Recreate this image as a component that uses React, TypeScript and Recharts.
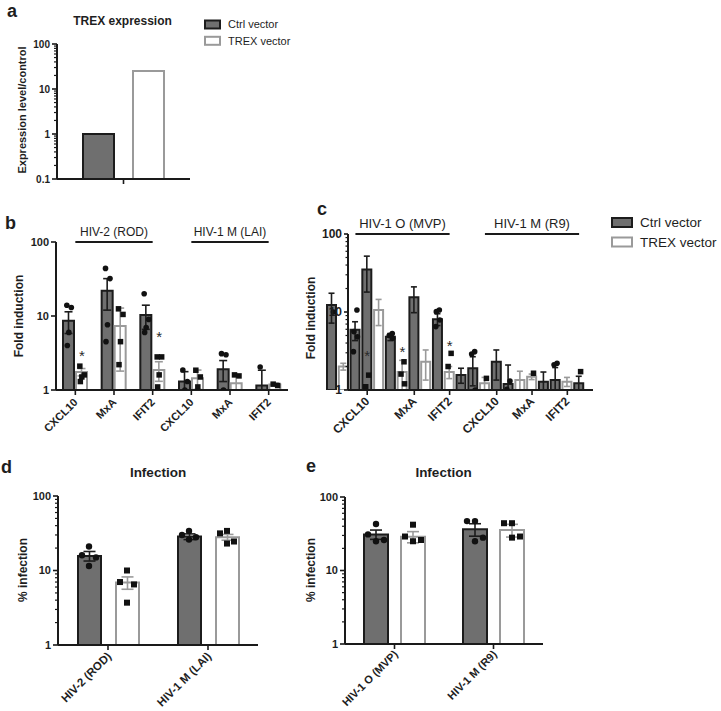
import React from 'react';
import { ComposedChart, Bar, Scatter, XAxis, YAxis, ErrorBar, ReferenceLine, Label } from 'recharts';

const FONT = '"Liberation Sans", Arial, Helvetica, sans-serif';
const DARK_FILL = '#6f6f6f';
const DARK_STROKE = '#1c1c1c';
const LIGHT_STROKE = '#9a9a9a';
const AXIS = '#1a1a1a';
const TEXT = '#1e1e1e';

// ---------- data ----------
const legendLabels = ['Ctrl vector', 'TREX vector'];

// a: TREX expression
const aCategories = [''];
const aCtrl = [1];
const aTrex = [25];

// b: HIV-2 (ROD) / HIV-1 M (LAI)
const bGenes = ['CXCL10', 'MxA', 'IFIT2', 'CXCL10', 'MxA', 'IFIT2'];
const bGroups = ['HIV-2 (ROD)', 'HIV-1 M (LAI)'];
const bCtrl = [8.6, 22, 10.3, 1.3, 1.9, 1.15];
const bCtrlErr = [2.8, 10, 3.7, 0.47, 0.6, 0.7];
const bTrex = [1.75, 7.3, 1.86, 1.44, 1.23, 1.19];
const bTrexErr = [0.2, 5.5, 0.55, 0.42, 0.37, 0.05];
const bCtrlPts = [[14, 13, 6, 4], [44, 32, 7.6, 4.5], [20, 9, 7, 6], [1.86, 1.3, 1.0], [3.1, 3.0, 1.0], [2.05]];
const bTrexPts = [[2.1, 1.6, 1.5, 1.3], [12.5, 10.5, 4.5, 2.2], [2.8, 2.8, 1.6, 1.1], [1.85, 1.5, 1.1], [1.6, 1.55], [1.2, 1.15]];
const bStars = [3.2, null, 5.7, null, null, null];

// c: HIV-1 O (MVP) / HIV-1 M (R9)
const cGroups = ['HIV-1 O (MVP)', 'HIV-1 M (R9)'];
const cRowGene = [null, null, null, 'CXCL10', null, null, null, 'MxA', null, null, 'IFIT2', null, null, null, 'CXCL10', null, null, 'MxA', null, null, 'IFIT2', null];
const cCtrl = [12.3, null, 5.9, 35, null, 4.8, null, 15.4, null, 8.1, null, 1.56, 1.9, null, 2.3, 1.19, null, null, 1.28, 1.34, null, 1.22];
const cCtrlErr = [5.1, null, 1.6, 17, null, 0.5, null, 5.6, null, 1.4, null, 0.34, 0.77, null, 0.96, 0.9, null, null, 0.42, 0.6, null, 0.28];
const cTrex = [null, 2.0, null, null, 10.6, null, 1.7, null, 2.3, null, 1.7, null, null, 1.22, null, null, 1.34, 1.48, null, null, 1.28, null];
const cTrexErr = [null, 0.2, null, null, 3.9, null, 0.7, null, 0.96, null, 0.3, null, null, 0.23, null, null, 0.4, 0.12, null, null, 0.17, null];
const cCircles = [[10], [], [10.6, 5.6, 4.8, 3.1], [], [], [5.3, 5.0, 4.6], [], [], [], [10.6, 10.1, 7.9, 6.5], [], [], [3.1, 2.9, 1.0], [], [], [1.3, 1.02], [], [], [], [2.2, 2.1], [], []];
const cSquares = [[], [], [], [1.55, 1.1], [], [], [2.3, 1.6, 1.2], [], [], [], [2.95, 2.0], [], [], [1.41], [], [], [], [1.64], [], [], [], [1.72]];
const cStars = [null, null, null, 2.95, null, null, 3.4, null, null, null, 4.0, null, null, null, null, null, null, null, null, null, null, null];

// d: infection HIV-2 / HIV-1 M (LAI)
const dCats = ['HIV-2 (ROD)', 'HIV-1 M (LAI)'];
const dCtrl = [15.7, 28.5];
const dCtrlErr = [2.3, 2.5];
const dTrex = [6.9, 28];
const dTrexErr = [1.3, 2.5];
const dCtrlPts = [[21, 16, 15, 11.5], [34, 30, 28, 26]];
const dTrexPts = [[10, 7, 6.5, 3.7], [34, 31.5, 24.5, 23]];

// e: infection HIV-1 O (MVP) / HIV-1 M (R9)
const eCats = ['HIV-1 O (MVP)', 'HIV-1 M (R9)'];
const eCtrl = [31, 36.3];
const eCtrlErr = [4.5, 7];
const eTrex = [28.8, 35.5];
const eTrexErr = [5, 7];
const eCtrlPts = [[43, 31, 26, 25], [47, 47, 28, 25]];
const eTrexPts = [[42, 29, 26, 25], [44, 44, 29, 28]];

// ---------- helpers ----------
type Row = Record<string, any>;

function buildRows(prefix: string, n: number, ctrl: (number | null)[], ctrlErr: (number | null)[], trex: (number | null)[], trexErr: (number | null)[], circles: number[][], squares: number[][], stars: (number | null)[], floor: number): Row[] {
  const rows: Row[] = [];
  for (let i = 0; i < n; i++) {
    const r: Row = { id: prefix + i };
    const cv = ctrl[i];
    const tv = trex[i];
    if (cv != null) r.ctrl = cv;
    if (tv != null) r.trex = tv;
    const ce = ctrlErr[i];
    const te = trexErr[i];
    if (cv != null && ce != null) r.ctrlErr = [Math.min(ce, cv - floor), ce];
    if (tv != null && te != null) r.trexErr = [Math.min(te, tv - floor), te];
    (circles[i] || []).forEach((v, k) => { r['cp' + k] = v; });
    (squares[i] || []).forEach((v, k) => { r['tp' + k] = v; });
    if (stars[i] != null) r.star = stars[i];
    rows.push(r);
  }
  return rows;
}

function logTicks(lo: number, hi: number, minor: boolean): number[] {
  const out: number[] = [];
  for (let d = lo; d < hi * 0.999; d *= 10) {
    const dd = +d.toPrecision(6);
    if (minor) {
      for (let k = 1; k < 10; k++) out.push(+(dd * k).toPrecision(6));
    } else out.push(dd);
  }
  out.push(hi);
  return out;
}

const isMajor = (v: number) => Math.abs(Math.log10(v) - Math.round(Math.log10(v))) < 1e-6;

const makeYTick = (font: number, majorLen: number, minorLen: number) => (props: any) => {
  const { x, y, payload } = props;
  const v = payload.value as number;
  const mj = isMajor(v);
  return (
    <g>
      <line x1={x - (mj ? majorLen : minorLen)} x2={x} y1={y} y2={y} stroke={AXIS} strokeWidth={mj ? 1.6 : 1.2} />
      {mj && (
        <text x={x - majorLen - 2} y={y} dy="0.36em" textAnchor="end" fontSize={font} fontWeight="bold" fontFamily={FONT} fill={TEXT}>
          {String(v)}
        </text>
      )}
    </g>
  );
};

const makeXTick = (labels: (string | null)[], font: number, dx: number, dy: number) => (props: any) => {
  const { x, y, index } = props;
  const label = labels[index];
  if (label == null) return <g />;
  return (
    <g>
      <line x1={x} x2={x} y1={y} y2={y + 5} stroke={AXIS} strokeWidth={1.6} />
      {label !== '' && (
        <text transform={`translate(${x + dx},${y + dy}) rotate(-45)`} textAnchor="end" fontSize={font} fontWeight="bold" fontFamily={FONT} fill={TEXT}>
          {label}
        </text>
      )}
    </g>
  );
};

const circleShape = (dx: number, r: number) => (p: any) => {
  const cx = p?.cx;
  const cy = p?.cy;
  if (!Number.isFinite(cx) || !Number.isFinite(cy)) return <g />;
  return <circle cx={cx + dx} cy={cy} r={r} fill="#111" />;
};

const squareShape = (dx: number, s: number) => (p: any) => {
  const cx = p?.cx;
  const cy = p?.cy;
  if (!Number.isFinite(cx) || !Number.isFinite(cy)) return <g />;
  return <rect x={cx + dx - s / 2} y={cy - s / 2} width={s} height={s} fill="#111" />;
};

const starShape = (dx: number) => (p: any) => {
  const cx = p?.cx;
  const cy = p?.cy;
  if (!Number.isFinite(cx) || !Number.isFinite(cy)) return <g />;
  return (
    <text x={cx + dx} y={cy + 8} textAnchor="middle" fontSize={15} fontFamily={FONT} fill="#2a2a2a">*</text>
  );
};

interface GroupLine { from: string; to: string; label: string; font: number; }

interface PanelSpec {
  left: number; top: number; width: number; height: number;
  margin: { top: number; right: number; bottom: number; left: number };
  yWidth: number; xHeight: number;
  domain: [number, number]; yTicks: number[]; yFont: number; majorLen: number; minorLen: number;
  labels: (string | null)[]; xFont: number; xdx: number; xdy: number;
  xPadding?: { left: number; right: number };
  barSize: number; barGap: number; errWidth: number; ptOffset: number; jitter: number[];
  rows: Row[]; groups?: GroupLine[]; ptR: number; sq: number; starDx?: number;
}

function Panel({ s }: { s: PanelSpec }) {
  const ks = [0, 1, 2, 3];
  return (
    <div style={{ position: 'absolute', left: s.left, top: s.top, width: s.width, height: s.height }}>
      <ComposedChart width={s.width} height={s.height} data={s.rows} margin={s.margin} barGap={s.barGap}>
        <XAxis dataKey="id" type="category" height={s.xHeight} interval={0} tickLine={false} tickSize={0} tickMargin={0}
          axisLine={{ stroke: AXIS, strokeWidth: 2 }} tick={makeXTick(s.labels, s.xFont, s.xdx, s.xdy)}
          padding={s.xPadding || { left: 0, right: 0 }} />
        <YAxis type="number" scale="log" domain={s.domain} allowDataOverflow ticks={s.yTicks} interval={0} width={s.yWidth}
          tickLine={false} tickSize={0} tickMargin={0} axisLine={{ stroke: AXIS, strokeWidth: 2 }}
          tick={makeYTick(s.yFont, s.majorLen, s.minorLen)} />
        <Bar dataKey="ctrl" barSize={s.barSize} fill={DARK_FILL} stroke={DARK_STROKE} strokeWidth={2} isAnimationActive={false}>
          <ErrorBar dataKey="ctrlErr" direction="y" width={s.errWidth} stroke={DARK_STROKE} strokeWidth={1.6} />
        </Bar>
        <Bar dataKey="trex" barSize={s.barSize} fill="#ffffff" stroke={LIGHT_STROKE} strokeWidth={2} isAnimationActive={false}>
          <ErrorBar dataKey="trexErr" direction="y" width={s.errWidth} stroke={LIGHT_STROKE} strokeWidth={1.6} />
        </Bar>
        {ks.map((k) => (
          <Scatter key={'c' + k} dataKey={'cp' + k} isAnimationActive={false} shape={circleShape(-s.ptOffset + s.jitter[k], s.ptR)} />
        ))}
        {ks.map((k) => (
          <Scatter key={'t' + k} dataKey={'tp' + k} isAnimationActive={false} shape={squareShape(s.ptOffset + s.jitter[k], s.sq)} />
        ))}
        <Scatter dataKey="star" isAnimationActive={false} shape={starShape(s.starDx ?? s.ptOffset)} />
        {(s.groups || []).map((g) => (
          <ReferenceLine key={g.label} segment={[{ x: g.from, y: s.domain[1] }, { x: g.to, y: s.domain[1] }]}
            stroke={AXIS} strokeWidth={2} ifOverflow="visible">
            <Label value={g.label} position="top" offset={6} fontSize={g.font} fontFamily={FONT} fill={TEXT} />
          </ReferenceLine>
        ))}
      </ComposedChart>
    </div>
  );
}

// ---------- panel specs ----------
const aRows = buildRows('a', aCategories.length, aCtrl, [null], aTrex, [null], [[]], [[]], [null], 0.1);
const bRows = buildRows('b', bGenes.length, bCtrl, bCtrlErr, bTrex, bTrexErr, bCtrlPts, bTrexPts, bStars, 1);
const cRows = buildRows('c', cRowGene.length, cCtrl, cCtrlErr, cTrex, cTrexErr, cCircles, cSquares, cStars, 1);
const dRows = buildRows('d', dCats.length, dCtrl, dCtrlErr, dTrex, dTrexErr, dCtrlPts, dTrexPts, [null, null], 1);
const eRows = buildRows('e', eCats.length, eCtrl, eCtrlErr, eTrex, eTrexErr, eCtrlPts, eTrexPts, [null, null], 1);

const specA: PanelSpec = {
  left: 0, top: 0, width: 200, height: 200, margin: { top: 44, right: 10, bottom: 0, left: 0 },
  yWidth: 57, xHeight: 21, domain: [0.1, 100], yTicks: logTicks(0.1, 100, true), yFont: 10, majorLen: 5, minorLen: 3,
  labels: aCategories, xFont: 11, xdx: 3, xdy: 13, barSize: 31, barGap: 19, errWidth: 4, ptOffset: 25, jitter: [0, 0, 0, 0],
  rows: aRows, ptR: 3, sq: 6,
};

const specB: PanelSpec = {
  left: 0, top: 200, width: 300, height: 270, margin: { top: 42, right: 12, bottom: 0, left: 0 },
  yWidth: 56, xHeight: 80, domain: [1, 100], yTicks: logTicks(1, 100, false), yFont: 11, majorLen: 5, minorLen: 3,
  labels: bGenes, xFont: 11, xdx: 3, xdy: 13, barSize: 11, barGap: 2, errWidth: 4, ptOffset: 6.5, jitter: [-2, 2.5, 0, -1.5],
  rows: bRows, ptR: 2.8, sq: 5.5,
  groups: [
    { from: 'b0', to: 'b2', label: bGroups[0], font: 12 },
    { from: 'b3', to: 'b5', label: bGroups[1], font: 12 },
  ],
};

const specC: PanelSpec = {
  left: 300, top: 200, width: 300, height: 270, margin: { top: 34, right: 7, bottom: 0, left: 0 },
  yWidth: 48, xHeight: 80, domain: [1, 100], yTicks: logTicks(1, 100, true), yFont: 12, majorLen: 4, minorLen: 2.5,
  labels: cRowGene, xFont: 12, xdx: 3, xdy: 12, xPadding: { left: -22, right: 8 },
  barSize: 9, barGap: -9, errWidth: 3, ptOffset: 0, jitter: [1.5, -1.5, 2, -2], starDx: 0,
  rows: cRows, ptR: 2.8, sq: 5.5,
  groups: [
    { from: 'c2', to: 'c10', label: cGroups[0], font: 13 },
    { from: 'c13', to: 'c21', label: cGroups[1], font: 13 },
  ],
};

const specD: PanelSpec = {
  left: 0, top: 480, width: 270, height: 231, margin: { top: 16, right: 12, bottom: 0, left: 0 },
  yWidth: 58, xHeight: 66, domain: [1, 100], yTicks: logTicks(1, 100, true), yFont: 11, majorLen: 5, minorLen: 3,
  labels: dCats, xFont: 11.5, xdx: 4, xdy: 12, barSize: 23, barGap: 15, errWidth: 6, ptOffset: 19, jitter: [0, -7, 7, 0],
  rows: dRows, ptR: 3.2, sq: 6,
};

const specE: PanelSpec = {
  left: 290, top: 480, width: 270, height: 231, margin: { top: 17, right: 17, bottom: 0, left: 0 },
  yWidth: 55, xHeight: 67, domain: [1, 100], yTicks: logTicks(1, 100, true), yFont: 11, majorLen: 5, minorLen: 3,
  labels: eCats, xFont: 11, xdx: 4, xdy: 11, barSize: 24, barGap: 13, errWidth: 6, ptOffset: 18.5, jitter: [0, -8, 8, 0],
  rows: eRows, ptR: 3.2, sq: 6,
};

// ---------- overlay text ----------
const bold = { fontFamily: FONT, fontWeight: 'bold' as const, fill: TEXT };

function LegendBlock({ x, y, sw, sh, font, gap }: { x: number; y: number; sw: number; sh: number; font: number; gap: number }) {
  return (
    <g>
      {legendLabels.map((lab, i) => (
        <g key={lab}>
          <rect x={x} y={y + i * gap} width={sw} height={sh} fill={i === 0 ? DARK_FILL : '#fff'} stroke={i === 0 ? DARK_STROKE : LIGHT_STROKE} strokeWidth={2} />
          <text x={x + sw + 8} y={y + i * gap + sh / 2} dy="0.36em" fontSize={font} fontFamily={FONT} fill={TEXT}>{lab}</text>
        </g>
      ))}
    </g>
  );
}

function Overlay() {
  return (
    <svg width={721} height={711} style={{ position: 'absolute', left: 0, top: 0, pointerEvents: 'none' }}>
      <text x={7} y={16.5} fontSize={18} {...bold}>a</text>
      <text x={5} y={228.5} fontSize={18} {...bold}>b</text>
      <text x={317} y={215} fontSize={18} {...bold}>c</text>
      <text x={1} y={473} fontSize={18} {...bold}>d</text>
      <text x={306} y={471.5} fontSize={18} {...bold}>e</text>

      <text x={122.5} y={24.5} textAnchor="middle" fontSize={12} {...bold}>TREX expression</text>
      <text x={158} y={476.5} textAnchor="middle" fontSize={13.5} {...bold}>Infection</text>
      <text x={443.5} y={476.5} textAnchor="middle" fontSize={13.5} {...bold}>Infection</text>

      <text transform="translate(26,110) rotate(-90)" textAnchor="middle" fontSize={11} {...bold}>Expression level/control</text>
      <text transform="translate(22.5,316) rotate(-90)" textAnchor="middle" fontSize={12} {...bold}>Fold induction</text>
      <text transform="translate(315,318) rotate(-90)" textAnchor="middle" fontSize={12} {...bold}>Fold induction</text>
      <text transform="translate(27,570) rotate(-90)" textAnchor="middle" fontSize={12} {...bold}>% infection</text>
      <text transform="translate(314.5,570) rotate(-90)" textAnchor="middle" fontSize={12} {...bold}>% infection</text>

      <LegendBlock x={205} y={20.5} sw={15} sh={8} font={11} gap={16.3} />
      <LegendBlock x={612} y={218} sw={20} sh={9} font={13.5} gap={19.5} />
    </svg>
  );
}

export default function App() {
  return (
    <div style={{ position: 'absolute', left: 0, top: 0, width: 721, height: 711, background: '#ffffff', overflow: 'hidden', fontFamily: FONT }}>
      <Panel s={specA} />
      <Panel s={specB} />
      <Panel s={specC} />
      <Panel s={specD} />
      <Panel s={specE} />
      <Overlay />
    </div>
  );
}
